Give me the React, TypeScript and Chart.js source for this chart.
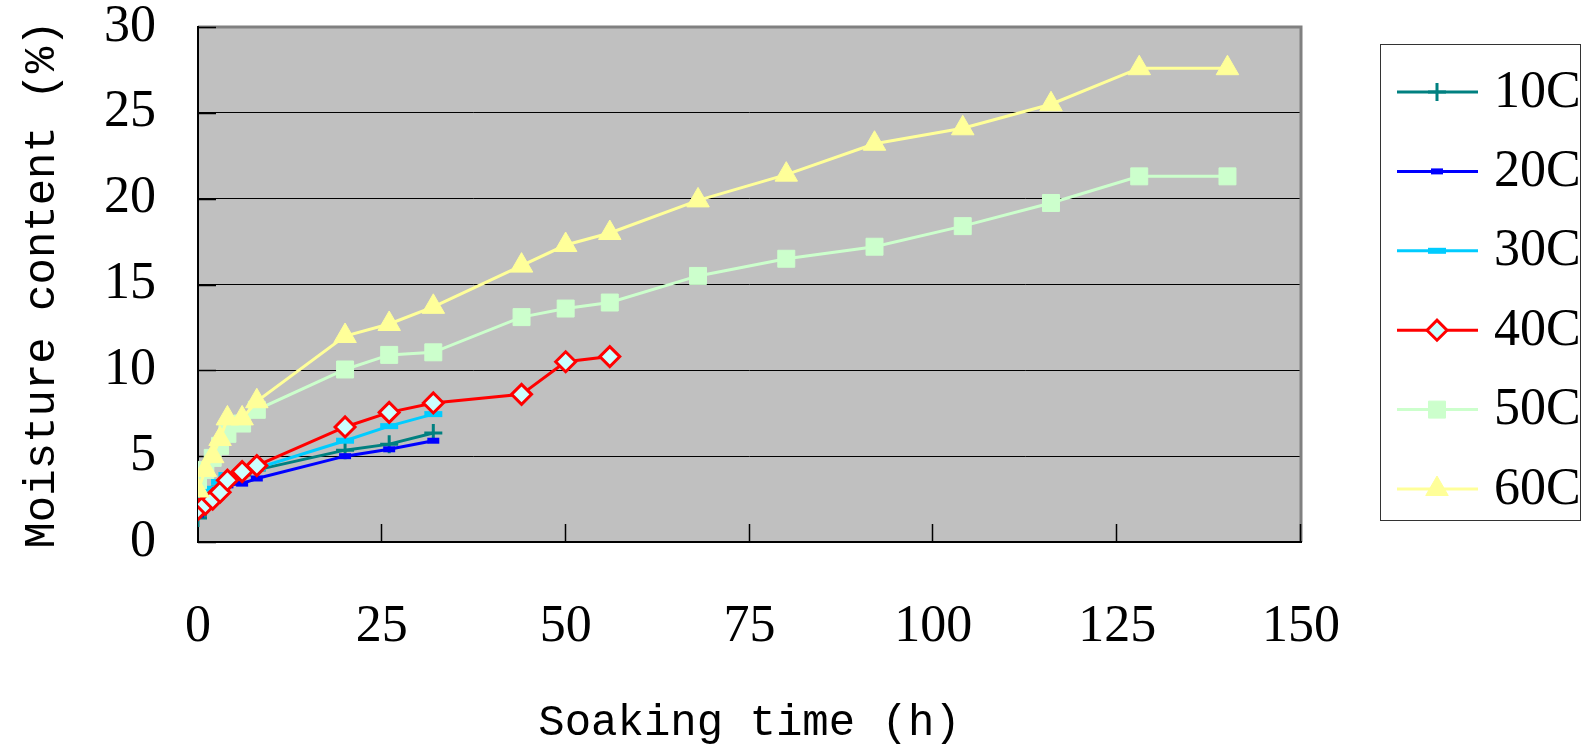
import React, { useEffect, useRef } from 'react';
import { Chart, registerables } from 'chart.js';
import { drawPoint } from 'chart.js/helpers';

Chart.register(...registerables);

// Soaking times (h) at which each temperature series was sampled
const hoursShort = [0, 1, 2, 3, 4, 6, 8, 20, 26, 32];
const hours40C = [0, 1, 2, 3, 4, 6, 8, 20, 26, 32, 44, 50, 56];
const hoursLong = [0, 1, 2, 3, 4, 6, 8, 20, 26, 32, 44, 50, 56, 68, 80, 92, 104, 116, 128, 140];

// Moisture content (%) per soaking temperature
const moisture10C = [1.4, 2.0, 2.6, 3.2, 3.6, 3.9, 4.2, 5.35, 5.7, 6.35];
const moisture20C = [1.6, 2.1, 2.6, 3.0, 3.3, 3.4, 3.7, 5.0, 5.4, 5.9];
const moisture30C = [2.4, 2.7, 3.1, 3.5, 3.9, 4.1, 4.3, 5.9, 6.75, 7.45];
const moisture40C = [1.9, 2.2, 2.5, 2.9, 3.6, 4.1, 4.45, 6.7, 7.55, 8.1, 8.6, 10.5, 10.8];
const moisture50C = [3.6, 4.2, 4.9, 5.6, 6.3, 6.9, 7.7, 10.05, 10.9, 11.05, 13.1, 13.6, 13.95, 15.5, 16.5, 17.2, 18.4, 19.75, 21.3, 21.3];
const moisture60C = [3.0, 4.2, 5.0, 6.0, 7.2, 7.2, 8.2, 12.0, 12.7, 13.7, 16.1, 17.3, 18.0, 19.9, 21.4, 23.2, 24.1, 25.5, 27.6, 27.6];

const seriesLabels = ['10C', '20C', '30C', '40C', '50C', '60C'];
const xTickValues = [0, 25, 50, 75, 100, 125, 150];
const yTickValues = [0, 5, 10, 15, 20, 25, 30];

const xTitle = 'Soaking time (h)';
const yTitle = 'Moisture content (%)';

const W = 1581;
const H = 749;
const PLOT = { left: 198, top: 27, right: 1301, bottom: 542 };

const TICK_FONT = '"Liberation Serif", "Times New Roman", serif';
const TITLE_FONT = '"Liberation Mono", "DejaVu Sans Mono", monospace';

const toPoints = (xs: number[], ys: number[]) => ys.map((y, i) => ({ x: xs[i], y }));

// Plot-area background and frame with inward tick marks
const framePlugin = {
  id: 'plotFrame',
  beforeDraw(chart: any) {
    const { ctx, chartArea: a } = chart;
    ctx.save();
    ctx.fillStyle = '#C0C0C0';
    ctx.fillRect(a.left, a.top, a.right - a.left, a.bottom - a.top);
    ctx.restore();
  },
  beforeDatasetsDraw(chart: any) {
    const { ctx, chartArea: a, scales } = chart;
    ctx.save();
    // top and right border
    ctx.strokeStyle = '#808080';
    ctx.lineWidth = 3;
    ctx.beginPath();
    ctx.moveTo(a.left, a.top);
    ctx.lineTo(a.right, a.top);
    ctx.lineTo(a.right, a.bottom);
    ctx.stroke();
    // inward ticks
    ctx.strokeStyle = '#000';
    ctx.lineWidth = 1.5;
    ctx.beginPath();
    xTickValues.forEach((v) => {
      if (v === 0) return;
      const px = Math.round(scales.x.getPixelForValue(v)) - 0.5;
      ctx.moveTo(px, a.bottom);
      ctx.lineTo(px, a.bottom - 18);
    });
    yTickValues.forEach((v) => {
      const py = Math.round(scales.y.getPixelForValue(v)) + 0.5;
      ctx.moveTo(a.left, py);
      ctx.lineTo(a.left + 18, py);
    });
    ctx.stroke();
    // left and bottom axis lines
    ctx.lineWidth = 2;
    ctx.beginPath();
    ctx.moveTo(a.left, a.top - 1);
    ctx.lineTo(a.left, a.bottom);
    ctx.lineTo(a.right + 1, a.bottom);
    ctx.stroke();
    ctx.restore();
  },
};

// Boxed legend on the right with line + marker samples
const legendPlugin = {
  id: 'sideLegend',
  afterDraw(chart: any) {
    const { ctx } = chart;
    ctx.save();
    ctx.fillStyle = '#FFFFFF';
    ctx.fillRect(1380.5, 44.5, 200, 476);
    ctx.strokeStyle = '#333333';
    ctx.lineWidth = 1;
    ctx.strokeRect(1380.5, 44.5, 200, 476);
    chart.data.datasets.forEach((ds: any, i: number) => {
      const y = 92 + i * 79.4;
      ctx.strokeStyle = ds.borderColor;
      ctx.lineWidth = ds.borderWidth;
      ctx.beginPath();
      ctx.moveTo(1397, y);
      ctx.lineTo(1478, y);
      ctx.stroke();
      ctx.fillStyle = ds.pointBackgroundColor;
      ctx.strokeStyle = ds.pointBorderColor;
      ctx.lineWidth = ds.pointBorderWidth;
      drawPoint(ctx, { pointStyle: ds.pointStyle, radius: ds.pointRadius, borderWidth: ds.pointBorderWidth, rotation: 0 } as any, 1437, y);
      ctx.fillStyle = '#000';
      ctx.font = `52px ${TICK_FONT}`;
      ctx.textBaseline = 'middle';
      ctx.textAlign = 'left';
      ctx.fillText(ds.label, 1494, y + 1);
    });
    ctx.restore();
  },
};

export default function App() {
  const canvasRef = useRef<HTMLCanvasElement | null>(null);

  useEffect(() => {
    const canvas = canvasRef.current;
    if (!canvas) return;

    const datasets = [
      {
        label: seriesLabels[0],
        data: toPoints(hoursShort, moisture10C),
        borderColor: '#008080',
        pointStyle: 'cross',
        pointRadius: 9,
        pointBorderWidth: 3,
        pointBorderColor: '#008080',
        pointBackgroundColor: '#008080',
        order: 6,
      },
      {
        label: seriesLabels[1],
        data: toPoints(hoursShort, moisture20C),
        borderColor: '#0000FF',
        pointStyle: 'line',
        pointRadius: 6,
        pointBorderWidth: 6,
        pointBorderColor: '#0000FF',
        pointBackgroundColor: '#0000FF',
        order: 5,
      },
      {
        label: seriesLabels[2],
        data: toPoints(hoursShort, moisture30C),
        borderColor: '#00CCFF',
        pointStyle: 'line',
        pointRadius: 9,
        pointBorderWidth: 6,
        pointBorderColor: '#00CCFF',
        pointBackgroundColor: '#00CCFF',
        order: 4,
      },
      {
        label: seriesLabels[3],
        data: toPoints(hours40C, moisture40C),
        borderColor: '#FF0000',
        pointStyle: 'rectRot',
        pointRadius: 10,
        pointBorderWidth: 3,
        pointBorderColor: '#FF0000',
        pointBackgroundColor: '#CCFFFF',
        order: 3,
      },
      {
        label: seriesLabels[4],
        data: toPoints(hoursLong, moisture50C),
        borderColor: '#CCFFCC',
        pointStyle: 'rect',
        pointRadius: 12,
        pointBorderWidth: 1,
        pointBorderColor: '#CCFFCC',
        pointBackgroundColor: '#CCFFCC',
        order: 2,
      },
      {
        label: seriesLabels[5],
        data: toPoints(hoursLong, moisture60C),
        borderColor: '#FFFF99',
        pointStyle: 'triangle',
        pointRadius: 13,
        pointBorderWidth: 1,
        pointBorderColor: '#FFFF99',
        pointBackgroundColor: '#FFFF99',
        order: 1,
      },
    ].map((d) => ({ ...d, borderWidth: 3, fill: false, tension: 0, pointHoverRadius: d.pointRadius }));

    const chart = new Chart(canvas, {
      type: 'line',
      data: { datasets: datasets as any },
      options: {
        responsive: false,
        animation: false,
        events: [],
        layout: { padding: { left: 0, top: PLOT.top, right: W - PLOT.right, bottom: 0 } },
        plugins: {
          legend: { display: false },
          tooltip: { enabled: false },
        },
        scales: {
          x: {
            type: 'linear',
            min: 0,
            max: 150,
            afterBuildTicks: (s: any) => {
              s.ticks = xTickValues.map((v) => ({ value: v }));
            },
            afterFit: (s: any) => {
              s.height = H - PLOT.bottom;
              s.paddingLeft = 0;
              s.paddingRight = 0;
            },
            grid: { display: false, drawTicks: false },
            border: { display: false },
            ticks: {
              color: '#000',
              padding: 59,
              maxRotation: 0,
              autoSkip: false,
              font: { family: TICK_FONT, size: 52, lineHeight: 1 },
            },
            title: {
              display: true,
              text: xTitle,
              color: '#000',
              font: { family: TITLE_FONT, size: 44, lineHeight: 1 },
              padding: { top: 0, bottom: 4 },
            },
          },
          y: {
            type: 'linear',
            min: 0,
            max: 30,
            afterBuildTicks: (s: any) => {
              s.ticks = yTickValues.map((v) => ({ value: v }));
            },
            afterFit: (s: any) => {
              s.width = PLOT.left;
              s.paddingTop = 0;
              s.paddingBottom = 0;
            },
            grid: {
              drawTicks: false,
              lineWidth: 1,
              color: (c: any) => (c.tick && (c.tick.value === 0 || c.tick.value === 30) ? 'rgba(0,0,0,0)' : '#000'),
            },
            border: { display: false },
            ticks: {
              color: '#000',
              padding: 42,
              font: { family: TICK_FONT, size: 52, lineHeight: 1 },
            },
            title: {
              display: true,
              text: yTitle,
              color: '#000',
              font: { family: TITLE_FONT, size: 44, lineHeight: 1 },
              padding: { top: 20, bottom: 0 },
            },
          },
        },
      },
      plugins: [framePlugin, legendPlugin],
    });

    return () => chart.destroy();
  }, []);

  return (
    <div style={{ position: 'absolute', left: 0, top: 0, width: W, height: H, background: '#fff' }}>
      <canvas ref={canvasRef} width={W} height={H} style={{ display: 'block', width: W, height: H }} />
    </div>
  );
}
